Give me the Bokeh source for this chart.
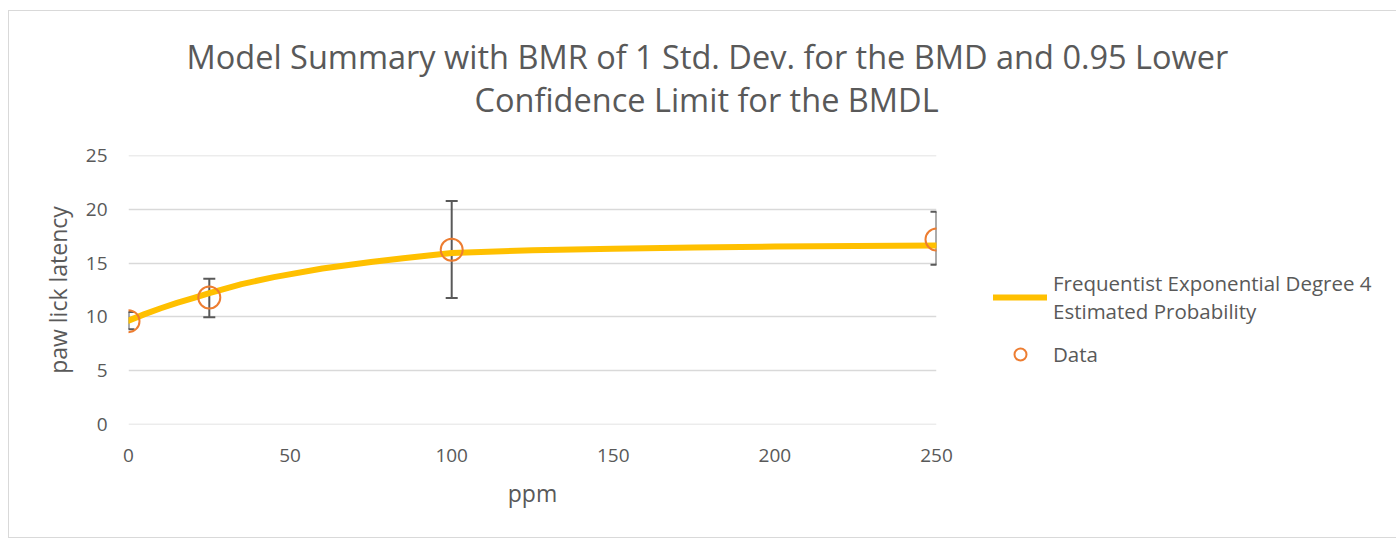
from bokeh.plotting import figure
from bokeh.models import (Range1d, FixedTicker, Whisker, ColumnDataSource, Title,
                          Legend, LegendItem)
from bokeh.embed import file_html
from bokeh.resources import INLINE

# ---- data ----
dose = [0, 25, 100, 250]
mean = [9.6, 11.8, 16.25, 17.2]
lower = [8.85, 9.95, 11.75, 14.85]
upper = [10.45, 13.55, 20.8, 19.8]

curve_x = [0, 5, 10, 15, 20, 25, 35, 45, 60, 75, 85, 100, 125, 150, 175, 200, 225, 250]
curve_y = [9.65, 10.25, 10.8, 11.3, 11.75, 12.2, 13.05, 13.7, 14.5, 15.1, 15.45, 15.95,
           16.2, 16.35, 16.45, 16.55, 16.6, 16.65]

x_ticks = [0, 50, 100, 150, 200, 250]
y_ticks = [0, 5, 10, 15, 20, 25]

title_lines = ["Model Summary with BMR of 1 Std. Dev. for the BMD and 0.95 Lower",
               "Confidence Limit for the BMDL"]
x_label = "ppm"
y_label = "paw lick latency"
legend_curve = "Frequentist Exponential Degree 4\nEstimated Probability"
legend_data = "Data"

FONT = "Open Sans"
GREY = "#595959"

p = figure(frame_width=808, frame_height=269, output_backend="svg", toolbar_location=None,
           x_range=Range1d(x_ticks[0], x_ticks[-1]),
           y_range=Range1d(y_ticks[0] - 0.03, y_ticks[-1] + 0.03),
           min_border_left=119, min_border_right=459, min_border_top=144, min_border_bottom=113)
p.styles = {"border": "1px solid #d9d9d9", "margin-left": "8px", "margin-top": "10px"}
p.outline_line_color = None
p.background_fill_color = "white"
p.border_fill_color = "white"

p.xgrid.grid_line_color = None
p.ygrid.grid_line_color = "#d9d9d9"
p.ygrid.grid_line_width = 1.5

p.xaxis.ticker = FixedTicker(ticks=x_ticks)
p.yaxis.ticker = FixedTicker(ticks=y_ticks)
for ax in (p.xaxis[0], p.yaxis[0]):
    ax.axis_line_color = None
    ax.major_tick_line_color = None
    ax.minor_tick_line_color = None
    ax.major_label_text_color = GREY
    ax.major_label_text_font = FONT
    ax.major_label_text_font_size = "19px"
    ax.axis_label_text_color = GREY
    ax.axis_label_text_font = FONT
    ax.axis_label_text_font_size = "23px"
    ax.axis_label_text_font_style = "normal"
p.xaxis.major_label_standoff = 18
p.yaxis.major_label_standoff = 15
p.xaxis.axis_label = x_label
p.yaxis.axis_label = y_label
p.xaxis.axis_label_standoff = 12
p.yaxis.axis_label_standoff = 9

# error bars
src = ColumnDataSource(dict(x=dose, y=mean, lo=lower, up=upper))
w = Whisker(source=src, base="x", upper="up", lower="lo", line_color=GREY, line_width=2)
for head in (w.upper_head, w.lower_head):
    head.line_color = GREY
    head.line_width = 2
    head.size = 12
p.add_layout(w)

line_r = p.line(curve_x, curve_y, line_color="#FFC000", line_width=6, line_cap="round")
pts_r = p.scatter(dose, mean, size=22, marker="circle", fill_color=None,
                  line_color="#ED7D31", line_width=2)

# two-line title (a thin spacer sits between the second line and the frame)
p.add_layout(Title(text=" ", standoff=31, text_font_size="1px"), "above")
p.add_layout(Title(text=title_lines[1], align="left", offset=346, standoff=0,
                   text_font=FONT, text_font_size="32.5px", text_font_style="normal",
                   text_color=GREY), "above")
p.add_layout(Title(text=title_lines[0], align="left", offset=58, standoff=-8,
                   text_font=FONT, text_font_size="32.5px", text_font_style="normal",
                   text_color=GREY), "above")

legend = Legend(items=[LegendItem(label=legend_curve, renderers=[line_r]),
                       LegendItem(label=legend_data, renderers=[pts_r])],
                location=(57, 55), glyph_width=54, glyph_height=30, label_standoff=6,
                padding=0, margin=0, spacing=14, border_line_color=None,
                background_fill_alpha=0, label_text_font=FONT, label_text_font_size="20.5px",
                label_text_color=GREY)
p.add_layout(legend, "right")

open("out.html", "w").write(file_html(p, INLINE))
